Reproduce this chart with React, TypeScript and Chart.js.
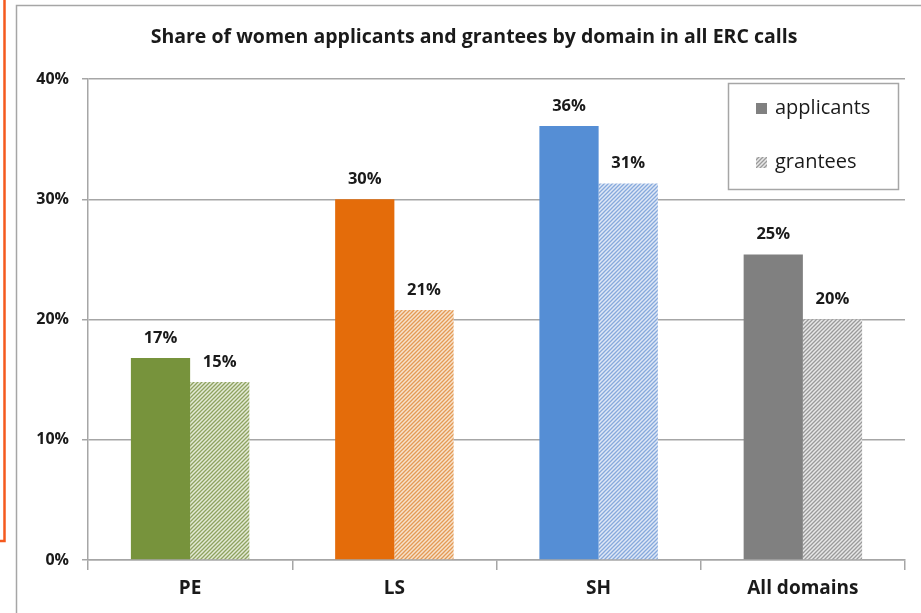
import React, { useEffect, useRef } from "react";
import { Chart, registerables } from "chart.js";

Chart.register(...registerables);

const categories = ["PE", "LS", "SH", "All domains"];
const applicants = [16.8, 30.0, 36.1, 25.4];
const grantees = [14.8, 20.8, 31.3, 20.0];
const applicantLabels = ["17%", "30%", "36%", "25%"];
const granteeLabels = ["15%", "21%", "31%", "20%"];
const domainColors = ["#77933c", "#e46c0a", "#558ed5", "#808080"];
const hatchLineColors = ["#8ea25f", "#e49a55", "#86a9dc", "#9a9a9a"];
const hatchBgColors = ["#e4ead6", "#f6e2cc", "#dfe8f6", "#e8e8e8"];
const yTicks = [0, 10, 20, 30, 40];
const legendLabels = ["applicants", "grantees"];
const titleText = "Share of women applicants and grantees by domain in all ERC calls";

const FONT = "'Open Sans', 'DejaVu Sans', sans-serif";

function makeHatch(line: string, bg: string): CanvasPattern | string {
  const c = document.createElement("canvas");
  c.width = 4;
  c.height = 4;
  const ctx = c.getContext("2d");
  if (!ctx) return line;
  ctx.fillStyle = bg;
  ctx.fillRect(0, 0, 4, 4);
  ctx.strokeStyle = line;
  ctx.lineWidth = 1.3;
  ctx.beginPath();
  ctx.moveTo(-2, 2);
  ctx.lineTo(2, -2);
  ctx.moveTo(0, 4);
  ctx.lineTo(4, 0);
  ctx.moveTo(2, 6);
  ctx.lineTo(6, 2);
  ctx.stroke();
  const p = ctx.createPattern(c, "repeat");
  return p || line;
}

export default function App() {
  const ref = useRef<HTMLCanvasElement | null>(null);

  useEffect(() => {
    if (!ref.current) return;
    const hatches = hatchLineColors.map((c, i) => makeHatch(c, hatchBgColors[i]));
    const grayHatch = hatches[3];

    const framePlugin = {
      id: "frame",
      beforeDraw(chart: any) {
        const ctx = chart.ctx;
        ctx.save();
        ctx.fillStyle = "#ffffff";
        ctx.fillRect(0, 0, chart.width, chart.height);
        ctx.strokeStyle = "#f55a1e";
        ctx.lineWidth = 2.5;
        ctx.beginPath();
        ctx.moveTo(4.5, 0);
        ctx.lineTo(4.5, 541);
        ctx.lineTo(0, 541);
        ctx.stroke();
        ctx.strokeStyle = "#a6a6a6";
        ctx.lineWidth = 1.5;
        ctx.beginPath();
        ctx.moveTo(16.5, chart.height + 2);
        ctx.lineTo(16.5, 5.5);
        ctx.lineTo(chart.width + 2, 5.5);
        ctx.stroke();
        // title
        ctx.font = `bold 19.5px ${FONT}`;
        ctx.fillStyle = "#1a1a1a";
        ctx.textAlign = "center";
        ctx.textBaseline = "middle";
        ctx.fillText(titleText, 474, 37);
        ctx.restore();
      },
      afterDatasetsDraw(chart: any) {
        const ctx = chart.ctx;
        ctx.save();
        ctx.font = `bold 16.5px ${FONT}`;
        ctx.fillStyle = "#1a1a1a";
        ctx.textAlign = "center";
        ctx.textBaseline = "middle";
        const labelSets = [applicantLabels, granteeLabels];
        chart.data.datasets.forEach((_: any, di: number) => {
          const meta = chart.getDatasetMeta(di);
          meta.data.forEach((el: any, i: number) => {
            ctx.fillText(labelSets[di][i], el.x, el.y - 20);
          });
        });
        const bx = 728.5, by = 83.5, bw = 170, bh = 106;
        ctx.fillStyle = "#ffffff";
        ctx.fillRect(bx, by, bw, bh);
        ctx.strokeStyle = "#a6a6a6";
        ctx.lineWidth = 1.5;
        ctx.strokeRect(bx, by, bw, bh);
        ctx.fillStyle = "#808080";
        ctx.fillRect(756, 103, 11, 11);
        ctx.fillStyle = grayHatch as any;
        ctx.fillRect(756, 157, 11, 11);
        ctx.font = `20px ${FONT}`;
        ctx.fillStyle = "#1a1a1a";
        ctx.textAlign = "left";
        ctx.fillText(legendLabels[0], 775, 108);
        ctx.fillText(legendLabels[1], 775, 162);
        ctx.restore();
      },
    };

    const chart = new Chart(ref.current, {
      type: "bar",
      data: {
        labels: categories,
        datasets: [
          {
            label: legendLabels[0],
            data: applicants,
            backgroundColor: domainColors,
            borderWidth: 0,
          },
          {
            label: legendLabels[1],
            data: grantees,
            backgroundColor: hatches as any,
            borderWidth: 0,
          },
        ],
      },
      options: {
        animation: false,
        responsive: false,
        devicePixelRatio: 1,
        layout: { padding: { left: 0, right: 16, top: 79, bottom: 0 } },
        datasets: {
          bar: { categoryPercentage: 0.58, barPercentage: 1.0 },
        } as any,
        plugins: {
          legend: { display: false },
          tooltip: { enabled: false },
          title: { display: false },
        },
        scales: {
          x: {
            grid: {
              offset: true,
              drawOnChartArea: false,
              drawTicks: true,
              tickLength: 10,
              color: "#a6a6a6",
              lineWidth: 1.5,
            },
            border: { display: true, color: "#a6a6a6", width: 1.5 },
            ticks: {
              color: "#1a1a1a",
              font: { family: FONT, size: 19, weight: "bold" },
              padding: 7,
            },
            afterFit: (s: any) => {
              s.height = 53;
            },
          },
          y: {
            min: 0,
            max: 40,
            afterBuildTicks: (s: any) => {
              s.ticks = yTicks.map((v) => ({ value: v }));
            },
            grid: {
              color: "#a6a6a6",
              lineWidth: 1.5,
              tickLength: 6,
            },
            border: { display: true, color: "#a6a6a6", width: 1.5 },
            ticks: {
              color: "#1a1a1a",
              font: { family: FONT, size: 16, weight: "bold" },
              padding: 13,
              callback: (v: any) => `${v}%`,
            },
            afterFit: (s: any) => {
              s.width = 88;
            },
          },
        },
      },
      plugins: [framePlugin],
    });
    return () => chart.destroy();
  }, []);

  return (
    <div style={{ position: "fixed", left: 0, top: 0, width: 921, height: 613 }}>
      <canvas ref={ref} width={921} height={613} />
    </div>
  );
}
